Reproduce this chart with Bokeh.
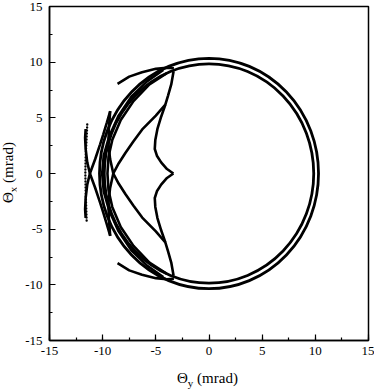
import numpy as np
from bokeh.plotting import figure
from bokeh.models import SingleIntervalTicker, Range1d, Div
from bokeh.layouts import row, column
from bokeh.embed import file_html
from bokeh.resources import INLINE

# ---- data (mrad) ----
# two rings (center, diameters)
ring_cx = [0.0, 0.0]
ring_cy = [0.0, 0.0]
ring_w = [20.6, 19.7]
ring_h = [20.7, 19.7]

# inner "bat" caustic, upper and lower halves
bat_up_x = [-3.33, -3.55, -3.85, -4.10, -4.50, -4.85, -5.05, -5.10, -4.90, -4.50, -3.95, -3.35]
bat_up_y = [9.18, 8.00, 7.00, 6.20, 5.10, 4.00, 3.00, 2.20, 1.60, 1.00, 0.40, 0.00]
bat_lo_x = [-3.33, -3.55, -3.85, -4.10, -4.50, -4.85, -5.05, -5.10, -4.90, -4.50, -3.95, -3.35]
bat_lo_y = [-9.18, -8.00, -7.00, -6.20, -5.10, -4.00, -3.00, -2.20, -1.60, -1.00, -0.40, 0.00]

# wing curves crossing near (-9, 0)
wing_up_x = [-4.10, -5.00, -6.28, -7.10, -7.85, -8.50, -9.00, -9.30, -9.45, -9.42, -9.29]
wing_up_y = [6.20, 5.20, 3.96, 2.90, 1.87, 0.90, 0.00, -1.30, -2.60, -4.00, -5.60]
wing_lo_x = [-4.10, -5.00, -6.28, -7.10, -7.85, -8.50, -9.00, -9.30, -9.45, -9.42, -9.29]
wing_lo_y = [-6.20, -5.20, -3.96, -2.90, -1.87, -0.90, 0.00, 1.30, 2.60, 4.00, 5.60]

# outer crossing curves near (-11.2, 0)
outer_up_x = [-9.29, -9.60, -9.95, -10.25, -10.70, -11.20, -11.45, -11.60, -11.65, -11.60]
outer_up_y = [5.60, 4.60, 3.50, 2.60, 1.30, 0.00, -1.00, -2.20, -3.20, -4.00]
outer_lo_x = [-9.29, -9.60, -9.95, -10.25, -10.70, -11.20, -11.45, -11.60, -11.65, -11.60]
outer_lo_y = [-5.60, -4.60, -3.50, -2.60, -1.30, 0.00, 1.00, 2.20, 3.20, 4.00]

# short arcs top / bottom left
arc_up_x = [-8.60, -7.50, -6.30, -5.00, -4.00, -3.30]
arc_up_y = [8.05, 8.70, 9.10, 9.40, 9.50, 9.45]
arc_lo_x = [-8.60, -7.50, -6.30, -5.00, -4.00, -3.30]
arc_lo_y = [-8.05, -8.70, -9.10, -9.40, -9.50, -9.45]

# extra arcs in the left band
band1_x = [-4.30, -5.80, -7.30, -8.50, -9.40, -9.90, -10.05, -9.90, -9.40, -8.50, -7.30, -5.80, -4.30]
band1_y = [9.30, 8.30, 6.90, 5.20, 3.30, 1.60, 0.00, -1.60, -3.30, -5.20, -6.90, -8.30, -9.30]
band2_x = [-4.00, -5.60, -7.10, -8.30, -9.10, -9.45, -9.55, -9.45, -9.10, -8.30, -7.10, -5.60, -4.00]
band2_y = [9.00, 8.00, 6.50, 4.80, 3.00, 1.50, 0.00, -1.50, -3.00, -4.80, -6.50, -8.00, -9.00]

# dotted curve at far left
dot_x = [-11.45, -11.52, -11.60, -11.63, -11.60, -11.55, -11.50]
dot_y = [4.40, 3.00, 1.50, 0.00, -1.50, -3.00, -4.40]

tick_values = [-15, -10, -5, 0, 5, 10, 15]
tick_labels = ["-15", "-10", "-5", "0", "5", "10", "15"]
tick_interval = 5

FONT = "Liberation Serif"

p = figure(width=358, height=364, x_range=Range1d(-15, 15), y_range=Range1d(-15, 15),
           output_backend="svg", toolbar_location=None,
           min_border_left=33, min_border_right=6, min_border_top=6, min_border_bottom=24)
p.xgrid.visible = False
p.ygrid.visible = False
p.outline_line_color = "black"
p.outline_line_width = 1.5
p.outline_line_alpha = 1.0
p.background_fill_color = "white"
p.border_fill_color = "white"

for ax in (p.xaxis, p.yaxis):
    ax.ticker = SingleIntervalTicker(interval=tick_interval, num_minor_ticks=2)
    ax.major_label_overrides = {v: s for v, s in zip(tick_values, tick_labels)}
    ax.major_tick_in = 6
    ax.major_tick_out = 0
    ax.minor_tick_in = 3
    ax.minor_tick_out = 0
    ax.axis_line_width = 1.5
    ax.axis_line_color = "black"
    ax.major_tick_line_color = "black"
    ax.major_tick_line_width = 1.2
    ax.minor_tick_line_color = "black"
    ax.minor_tick_line_width = 1.2
    ax.major_label_text_font = FONT
    ax.major_label_text_font_size = "13px"
    ax.major_label_text_color = "black"
p.xaxis.major_label_standoff = 6
p.yaxis.major_label_standoff = 7

LW = 2.6
p.ellipse(x=ring_cx, y=ring_cy, width=ring_w, height=ring_h,
          fill_color=None, line_color="black", line_width=2.8)
for xs, ys in [(bat_up_x, bat_up_y), (bat_lo_x, bat_lo_y),
               (wing_up_x, wing_up_y), (wing_lo_x, wing_lo_y),
               (outer_up_x, outer_up_y), (outer_lo_x, outer_lo_y),
               (arc_up_x, arc_up_y), (arc_lo_x, arc_lo_y),
               (band1_x, band1_y), (band2_x, band2_y)]:
    p.line(xs, ys, line_color="black", line_width=LW)
p.line(dot_x, dot_y, line_color="black", line_width=2.4, line_dash="0 3", line_cap="round")

TXT = "font-family: 'Liberation Serif', 'Times New Roman', serif; font-size: 15px; color: black; white-space: nowrap; line-height: 15px;"
SUB = "font-size: 11px; vertical-align: -4px; line-height: 0;"

xtitle = Div(
    text=f'<div style="margin-left:161px; margin-top:7px; {TXT}">&Theta;<span style="{SUB}">y</span> (mrad)</div>',
    width=358, height=24, margin=(0, 0, 0, 0))

ytitle = Div(
    text=(f'<div style="position: relative; width: 0; height: 0; left: 1px; top: 203px;">'
          f'<div style="transform: rotate(-90deg); transform-origin: 0 0; {TXT}">'
          f'&Theta;<span style="{SUB}">x</span> (mrad)</div></div>'),
    width=16, height=388, margin=(0, 0, 0, 0))

layout = row(ytitle, column(p, xtitle, spacing=0), spacing=0)

open("out.html", "w").write(file_html(layout, INLINE))
